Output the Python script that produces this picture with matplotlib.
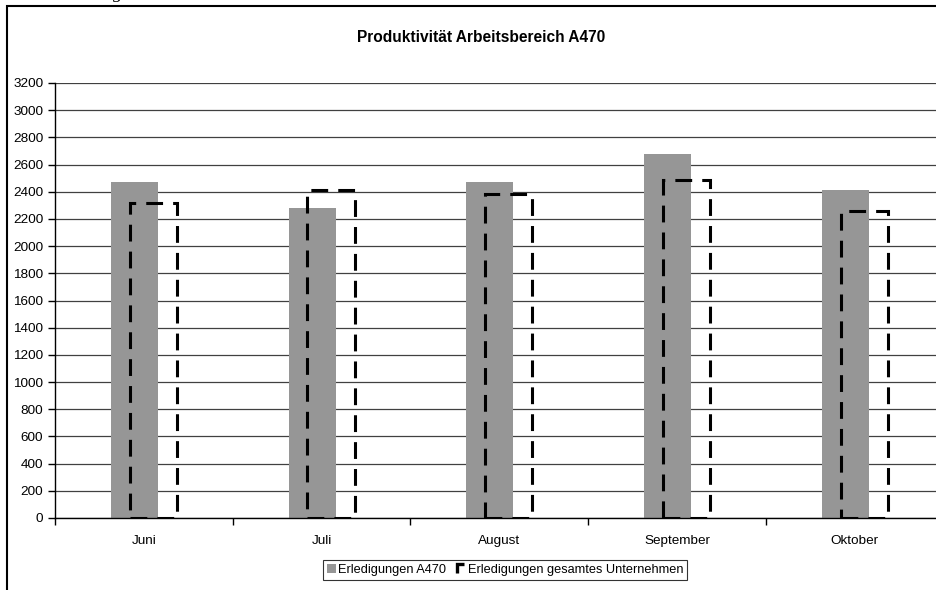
import matplotlib
matplotlib.use("Agg")
import matplotlib.pyplot as plt
from matplotlib.patches import Patch, Rectangle
from matplotlib.lines import Line2D
from matplotlib.legend_handler import HandlerBase
import numpy as np

plt.rcParams['font.family'] = ['Liberation Sans', 'DejaVu Sans']

categories = ["Juni", "Juli", "August", "September", "Oktober"]
a470 = [2470, 2280, 2470, 2676, 2412]
gesamt = [2314, 2414, 2382, 2483, 2262]
yticks = list(range(0, 3201, 200))

W, H = 936, 590
fig = plt.figure(figsize=(W/100, H/100), dpi=100)

# outer chart border (cut off at right and bottom)
fig.patches.append(Rectangle((7/W, -0.1), 1.2, (590-6)/H + 0.1, transform=fig.transFigure,
                             fill=False, edgecolor='black', linewidth=1.5))
# fragment of caption text above the chart
fig.text(113/W, 1 + 1.5/H, "g", fontsize=14, family='Liberation Serif', style='italic',
         ha='left', va='baseline')

ax = fig.add_axes([55/W, (H-518)/H, 888.5/W, 435/H])
x = np.arange(len(categories))
bw = 0.265
off = 0.053

ax.bar(x - off, a470, width=bw, color='#969696', zorder=2)
ax.bar(x + off, gesamt, width=bw, facecolor='none', edgecolor='black',
       linewidth=2.2, linestyle=(0, (5.5, 3.3)), zorder=3)

ax.set_xlim(-0.5, 4.5)
ax.set_ylim(0, 3200)
ax.set_yticks(yticks)
ax.set_yticklabels([str(v) for v in yticks])
ax.yaxis.grid(True, color='#404040', linewidth=0.9, zorder=0)
ax.set_axisbelow(True)

ax.set_xticks(np.arange(-0.5, 5, 1.0))
ax.set_xticklabels([])
ax.set_xticks(x, minor=True)
ax.set_xticklabels(categories, minor=True)
ax.tick_params(axis='x', which='minor', length=0, pad=12, labelsize=9.7)
ax.tick_params(axis='x', which='major', length=5, width=1, direction='out')
ax.tick_params(axis='y', length=5, width=1, direction='out', labelsize=9.7, pad=3.4)

for s in ['top', 'right']:
    ax.spines[s].set_visible(False)
ax.spines['left'].set_linewidth(1)
ax.spines['bottom'].set_linewidth(1)

fig.text(481/W, 1 - 38/H, "Produktivität Arbeitsbereich A470", ha='center', va='center',
         fontsize=11.2, fontweight='bold')


class CornerHandler(HandlerBase):
    """Legend icon for the dashed outline bar: a small 'corner' of its dashed edge."""
    def create_artists(self, legend, orig_handle, xdescent, ydescent, width, height,
                       fontsize, trans):
        x0, y0 = -xdescent + 0.8, -ydescent
        x1, y1 = x0 + width - 0.8, y0 + height
        l1 = Line2D([x0, x0, x1 - 1.2], [y0, y1, y1], color='black', linewidth=2.4,
                    solid_joinstyle='miter', solid_capstyle='butt', transform=trans)
        return [l1]


dashed_handle = Patch(facecolor='none', edgecolor='black',
                      label='Erledigungen gesamtes Unternehmen')
handles = [Patch(facecolor='#969696', edgecolor='none', label='Erledigungen A470'),
           dashed_handle]
leg = fig.legend(handles=handles, loc='center', bbox_to_anchor=(505/W, 1 - 570/H), ncol=2,
                 fontsize=9.2, frameon=True, fancybox=False, handlelength=0.7, handleheight=0.7,
                 handletextpad=0.2, columnspacing=0.8, borderpad=0.3, borderaxespad=0,
                 handler_map={dashed_handle: CornerHandler()})
leg.get_frame().set_edgecolor('black')
leg.get_frame().set_linewidth(0.8)

fig.savefig("out.png", dpi=100)
